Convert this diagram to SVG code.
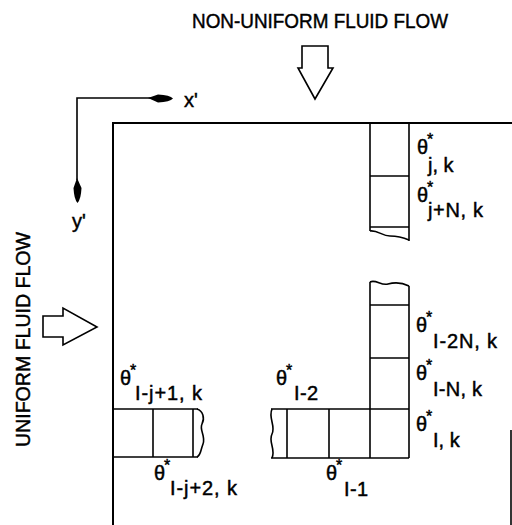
<svg xmlns="http://www.w3.org/2000/svg" width="512" height="525" viewBox="0 0 512 525">
<style>
text{font-family:"Liberation Sans",Arial,sans-serif;fill:#000;stroke:#000;stroke-width:0.45}
.t{font-size:20px}
.s{font-size:16px}
.ln{fill:none;stroke:#000;stroke-width:1.6}
.bx{fill:none;stroke:#000;stroke-width:2}
.ar{fill:#fff;stroke:#000;stroke-width:1.6;stroke-linejoin:miter}
</style>
<rect width="512" height="525" fill="#fff"/>
<g id="title"><text class="t" x="192" y="28" textLength="256" lengthAdjust="spacingAndGlyphs">NON-UNIFORM FLUID FLOW</text></g>
<g id="flow-down"><polygon class="ar" points="302,46 328,46 328,68 333,68 315,99 298,68 302,68"/></g>
<g id="side-label"><text class="t" transform="translate(30,447) rotate(-90)" x="0" y="0" textLength="215" lengthAdjust="spacingAndGlyphs">UNIFORM FLUID FLOW</text></g>
<g id="flow-right"><polygon class="ar" points="43,316 63,316 63,308 97,327 63,345 63,337 43,337"/></g>
<g id="axes">
<polyline class="ln" points="152,98 77,98 77,180"/>
<path d="M148,98 L158,94.5 Q170,95 173,98.5 Q170,102 158,102.5 Z" fill="#000"/>
<path d="M77,178 L73.5,188 Q74,199 77.5,203 Q81,199 81.5,188 Z" fill="#000"/>
<text x="184" y="107" style="font-size:20px">x'</text>
<text x="72" y="228" style="font-size:20px">y'</text>
</g>
<g id="domain">
<polyline class="bx" points="512,123 113,123 113,525"/>
<line class="ln" x1="511" y1="430" x2="511" y2="525"/>
</g>
<g id="top-column">
<line class="ln" x1="370" y1="123" x2="370" y2="231"/>
<line class="ln" x1="409" y1="123" x2="409" y2="241"/>
<line class="ln" x1="370" y1="176" x2="409" y2="176"/>
<line class="ln" x1="370" y1="227" x2="409" y2="227"/>
<path class="ln" d="M370,231 C378,230 382,236 390,236 S402,237 409,240"/>
</g>
<g id="corner-cells">
<path class="ln" d="M370,282 C376,279 381,286 388,284 S401,282 409,286"/>
<line class="ln" x1="370" y1="282" x2="370" y2="458"/>
<line class="ln" x1="409" y1="286" x2="409" y2="458"/>
<line class="ln" x1="370" y1="305" x2="409" y2="305"/>
<line class="ln" x1="370" y1="358" x2="409" y2="358"/>
<line class="ln" x1="271" y1="409" x2="409" y2="409"/>
<line class="ln" x1="271" y1="458" x2="409" y2="458"/>
<line class="ln" x1="287" y1="409" x2="287" y2="458"/>
<line class="ln" x1="329" y1="409" x2="329" y2="458"/>
<path class="ln" d="M272,409 C268,418 276,426 272,434 S276,449 272,458"/>
</g>
<g id="left-cells">
<line class="ln" x1="113" y1="409" x2="198" y2="409"/>
<line class="ln" x1="113" y1="457" x2="198" y2="457"/>
<line class="ln" x1="153" y1="409" x2="153" y2="457"/>
<line class="ln" x1="193" y1="409" x2="193" y2="457"/>
<path class="ln" d="M197,409 C203,411 205,418 202,424 S206,436 203,444 S201,455 197,457"/>
</g>
<g id="labels">
<text><tspan class="t" x="417" y="154">θ</tspan><tspan class="s" x="427" y="145">*</tspan><tspan class="t" x="428" y="172">j, k</tspan></text>
<text><tspan class="t" x="417" y="202">θ</tspan><tspan class="s" x="427" y="193">*</tspan><tspan class="t" x="428" y="217" textLength="55" lengthAdjust="spacing">j+N, k</tspan></text>
<text><tspan class="t" x="416" y="332">θ</tspan><tspan class="s" x="426" y="323">*</tspan><tspan class="t" x="433" y="348" textLength="64" lengthAdjust="spacing">I-2N, k</tspan></text>
<text><tspan class="t" x="416" y="380">θ</tspan><tspan class="s" x="426" y="371">*</tspan><tspan class="t" x="433" y="396" textLength="49" lengthAdjust="spacing">I-N, k</tspan></text>
<text><tspan class="t" x="416" y="431">θ</tspan><tspan class="s" x="426" y="422">*</tspan><tspan class="t" x="433" y="447">I, k</tspan></text>
<text><tspan class="t" x="276" y="385">θ</tspan><tspan class="s" x="286" y="376">*</tspan><tspan class="t" x="294" y="400" textLength="24" lengthAdjust="spacing">I-2</tspan></text>
<text><tspan class="t" x="326" y="480">θ</tspan><tspan class="s" x="336" y="471">*</tspan><tspan class="t" x="344" y="496" textLength="24" lengthAdjust="spacing">I-1</tspan></text>
<text><tspan class="t" x="120" y="385">θ</tspan><tspan class="s" x="130" y="376">*</tspan><tspan class="t" x="135" y="400" textLength="67" lengthAdjust="spacing">I-j+1, k</tspan></text>
<text><tspan class="t" x="154" y="480">θ</tspan><tspan class="s" x="164" y="471">*</tspan><tspan class="t" x="170" y="495" textLength="67" lengthAdjust="spacing">I-j+2, k</tspan></text>
</g>
</svg>
